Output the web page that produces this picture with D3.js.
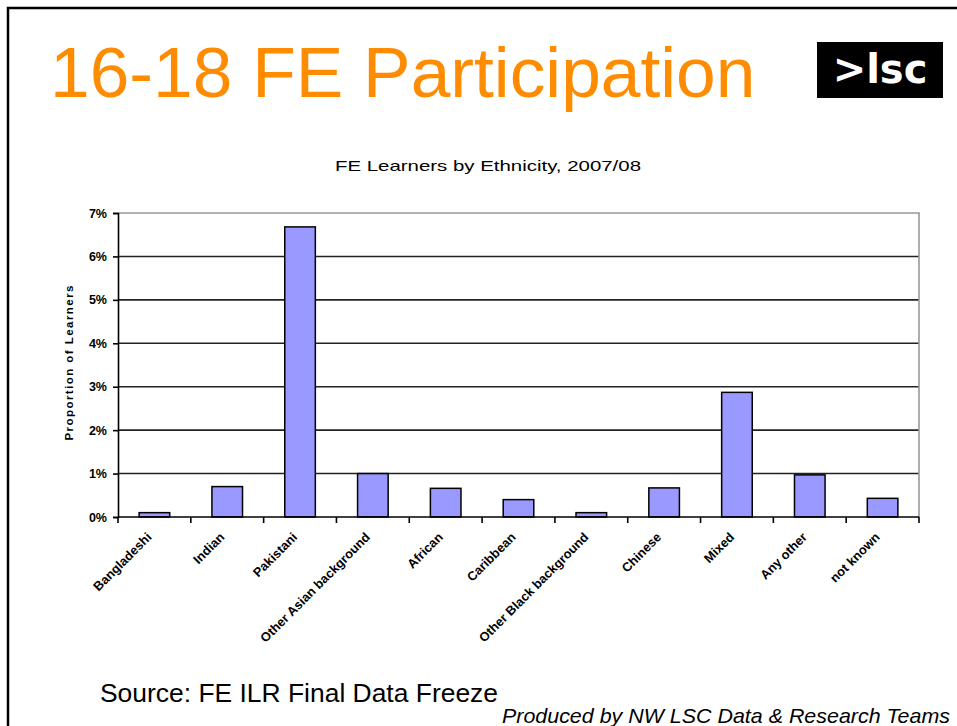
<!DOCTYPE html>
<html>
<head>
<meta charset="utf-8">
<script src="https://cdn.jsdelivr.net/npm/d3@7"></script>
<style>
  body { margin: 0; background: #fff; }
  svg { display: block; font-family: Arial, "Liberation Sans", sans-serif; }
</style>
</head>
<body>
<svg id="chart" width="957" height="726"></svg>
<script>
// data
const categories = ["Bangladeshi", "Indian", "Pakistani", "Other Asian background", "African",
  "Caribbean", "Other Black background", "Chinese", "Mixed", "Any other", "not known"];
const shares = [0.1, 0.7, 6.68, 1.0, 0.66, 0.4, 0.1, 0.67, 2.87, 0.97, 0.43];
const yTicks = [0, 1, 2, 3, 4, 5, 6, 7];

const svg = d3.select("#chart");

// slide frame
svg.append("path").attr("d", "M8,726 V8 H957")
  .attr("fill", "none").attr("stroke", "#000").attr("stroke-width", 2.5);

// slide title
svg.append("text").attr("x", 50).attr("y", 97)
  .attr("font-size", 71.3).attr("fill", "#FF8C00")
  .text("16-18 FE Participation");

// logo
svg.append("rect").attr("x", 817).attr("y", 42).attr("width", 126).attr("height", 56).attr("fill", "#000");
svg.append("text").attr("x", 880).attr("y", 83).attr("text-anchor", "middle")
  .attr("font-family", "DejaVu Sans").attr("font-weight", "bold").attr("font-size", 40)
  .attr("fill", "#fff").text(">lsc");

// chart
const margin = { top: 213, left: 118, right: 919, bottom: 517 };
const x = d3.scaleBand().domain(categories).range([margin.left, margin.right])
  .paddingInner(0.58).paddingOuter(0.29);
const y = d3.scaleLinear().domain([0, 7]).range([margin.bottom, margin.top]);

svg.append("text").attr("x", 488).attr("y", 171).attr("text-anchor", "middle")
  .attr("font-size", 15).attr("textLength", 306).attr("lengthAdjust", "spacingAndGlyphs")
  .text("FE Learners by Ethnicity, 2007/08");

// gridlines
svg.append("g").selectAll("line").data(yTicks.filter(d => d > 0 && d < 7)).join("line")
  .attr("x1", margin.left).attr("x2", margin.right)
  .attr("y1", d => y(d)).attr("y2", d => y(d))
  .attr("stroke", "#222").attr("stroke-width", 1.6);

// plot border top/right
svg.append("path")
  .attr("d", `M${margin.left},${y(7)} H${margin.right} V${margin.bottom}`)
  .attr("fill", "none").attr("stroke", "#999").attr("stroke-width", 1.6);

// bars
svg.append("g").selectAll("rect").data(categories).join("rect")
  .attr("x", d => x(d)).attr("width", x.bandwidth())
  .attr("y", (d, i) => y(shares[i])).attr("height", (d, i) => y(0) - y(shares[i]))
  .attr("fill", "#9999FF").attr("stroke", "#000").attr("stroke-width", 1.5);

// y axis
const yAxis = svg.append("g").attr("transform", `translate(${margin.left},0)`)
  .call(d3.axisLeft(y).tickValues(yTicks).tickSize(5).tickFormat(d => d + "%"));
yAxis.select(".domain").attr("stroke", "#000").attr("stroke-width", 1.6);
yAxis.selectAll(".tick line").attr("stroke", "#000").attr("stroke-width", 1.6);
yAxis.selectAll(".tick text").attr("font-size", 12.5).attr("font-weight", "bold")
  .attr("font-family", "Arial, sans-serif").attr("x", -11);

// x axis: ticks on band edges
const step = x.step();
const edges = d3.range(categories.length + 1).map(i => margin.left + i * step);
svg.append("line").attr("x1", margin.left).attr("x2", margin.right)
  .attr("y1", y(0)).attr("y2", y(0)).attr("stroke", "#000").attr("stroke-width", 1.6);
svg.append("g").selectAll("line").data(edges).join("line")
  .attr("x1", d => d).attr("x2", d => d).attr("y1", y(0)).attr("y2", y(0) + 6)
  .attr("stroke", "#000").attr("stroke-width", 1.6);

svg.append("g").selectAll("text").data(categories).join("text")
  .attr("transform", d => `translate(${x(d) + x.bandwidth() / 2 - 2},${y(0) + 21}) rotate(-45)`)
  .attr("text-anchor", "end").attr("font-size", 12.8).attr("font-weight", "bold")
  .text(d => d);

// y axis title
svg.append("text").attr("transform", `translate(73,${(margin.top + margin.bottom) / 2 - 2}) rotate(-90)`)
  .attr("text-anchor", "middle").attr("font-size", 11.5).attr("font-weight", "bold")
  .attr("textLength", 155).attr("lengthAdjust", "spacing")
  .text("Proportion of Learners");

// footer
svg.append("text").attr("x", 100).attr("y", 702).attr("font-size", 26)
  .attr("textLength", 398).attr("lengthAdjust", "spacingAndGlyphs")
  .text("Source: FE ILR Final Data Freeze");
svg.append("text").attr("x", 950).attr("y", 723).attr("text-anchor", "end")
  .attr("font-size", 21).attr("font-style", "italic")
  .attr("textLength", 448).attr("lengthAdjust", "spacingAndGlyphs")
  .text("Produced by NW LSC Data & Research Teams");
</script>
</body>
</html>
